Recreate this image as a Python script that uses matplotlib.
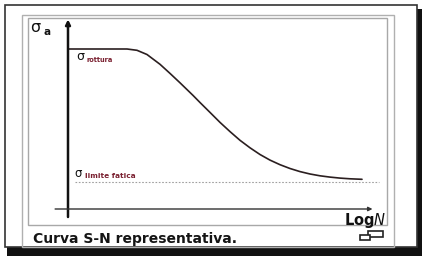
import matplotlib.pyplot as plt
from matplotlib.patches import Rectangle

# S-N curve (log N in arbitrary units, stress in % of rupture)
LOG_N = [0.0, 1.4, 1.967, 2.3, 2.633, 3.067, 3.4, 3.733, 4.167, 4.4, 4.733, 5.067,
         5.4, 5.733, 6.067, 6.4, 6.733, 7.067, 7.4, 7.733, 8.067, 8.4, 8.733,
         9.067, 9.4, 9.8]
SIGMA = [100.0, 100.0, 100.0, 99.19, 96.56, 90.44, 84.75, 78.88, 71.0, 66.56, 60.38,
         54.13, 48.38, 42.94, 38.25, 34.06, 30.56, 27.69, 25.31, 23.38, 21.88,
         20.75, 19.94, 19.31, 18.88, 18.56]
SIGMA_LIMIT = 16.9
LIMIT_SPAN = [0.23, 10.37]

CAPTION = "Curva S-N representativa."

W, H = 428, 264
fig = plt.figure(figsize=(W / 100, H / 100), dpi=100)
fig.patch.set_facecolor("white")

# frame decoration in pixel coordinates
bg = fig.add_axes([0, 0, 1, 1])
bg.set_xlim(0, W)
bg.set_ylim(H, 0)
bg.axis("off")
bg.add_patch(Rectangle((7, 9), 415, 247, facecolor="#111111", edgecolor="none"))
bg.add_patch(Rectangle((5, 5), 412, 242, facecolor="white", edgecolor="#333333", lw=1.2))
bg.add_patch(Rectangle((22, 15), 372, 232, facecolor="none", edgecolor="#b0b0b0", lw=1.0))
bg.add_patch(Rectangle((28, 18), 359, 207, facecolor="none", edgecolor="#a8a8a8", lw=1.0))
bg.text(33, 239, CAPTION, fontsize=10, color="#151515", va="center", ha="left",
        fontweight="bold")
# little enlarge icon
bg.add_patch(Rectangle((368, 231), 15, 5.5, facecolor="white", edgecolor="#222222", lw=1.2))
bg.add_patch(Rectangle((360, 235), 10, 5, facecolor="white", edgecolor="#222222", lw=1.2))

# chart area: x = (px - 68) / 30, y = (209 - py) / 1.6
ax = fig.add_axes([28 / W, 1 - 225 / H, 359 / W, 207 / H])
ax.set_xlim((28 - 68) / 30, (387 - 68) / 30)
ax.set_ylim((209 - 225) / 1.6, (209 - 18) / 1.6)
ax.axis("off")
ax.patch.set_alpha(0)

ax.plot(LOG_N, SIGMA, color="#2b1f20", lw=1.2, solid_capstyle="round")
ax.plot(LIMIT_SPAN, [SIGMA_LIMIT, SIGMA_LIMIT], color="#a0a0a0", lw=0.8, ls=(0, (1.5, 1.5)))

# axes with arrows
ax.annotate("", xy=(0, 118.5), xytext=(0, -5),
            arrowprops=dict(arrowstyle="-|>", color="#111111", lw=1.8,
                            mutation_scale=7, shrinkA=0, shrinkB=0))
ax.annotate("", xy=(10.15, 0), xytext=(-0.43, 0),
            arrowprops=dict(arrowstyle="-|>", color="#333333", lw=1.0,
                            mutation_scale=6, shrinkA=0, shrinkB=0))

# labels
ax.text(-1.26, 110.6, "σ", fontsize=11.5, color="#111111", va="baseline", ha="left")
ax.text(-0.8, 108.75, "a", fontsize=7.5, color="#111111", va="baseline", ha="left",
        fontweight="bold")
ax.text(0.28, 93.1, "σ", fontsize=9, color="#111111", va="baseline", ha="left")
ax.text(0.63, 91.9, "rottura", fontsize=4.8, color="#7a2030", va="baseline", ha="left",
        fontweight="bold")
ax.text(0.2, 20.0, "σ", fontsize=8.5, color="#111111", va="baseline", ha="left")
ax.text(0.56, 19.2, "limite fatica", fontsize=5.3, color="#7a2030", va="baseline", ha="left",
        fontweight="bold")
ax.text(10.62, -7.5, r"Log$\mathbf{\it{N}}$", fontsize=10.5, color="#111111", va="center",
        ha="right", fontweight="bold")

fig.savefig("out.png", dpi=100)
